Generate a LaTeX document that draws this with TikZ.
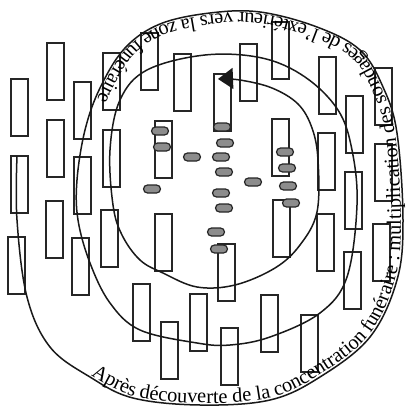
\documentclass[tikz,border=0pt]{standalone}
\usepackage{fontspec}
\setmainfont{Liberation Serif}
\usetikzlibrary{arrows.meta, decorations.text}

\begin{document}
\begin{tikzpicture}[
    x=1pt, y=-1pt,
    sondage/.style={draw=black!85, line width=1.6pt},
    pastille/.style={draw=black!85, fill=black!45, line width=1.2pt, rounded corners=4pt},
    spirale/.style={draw=black!90, line width=1.5pt}
  ]
  \useasboundingbox (0,0) rectangle (410,407);

  % Tranchées de sondage
  \foreach \x/\y in {47/43, 11/79, 47/120, 74/82, 103/53, 141/33, 174/54, 103/130,
                     74/157, 11/156, 155/121, 46/201, 8/237, 72/238, 101/210, 155/214,
                     133/284, 161/322, 190/294, 221/328, 261/295, 218/244, 273/200,
                     214/74, 240/44, 272/22, 319/57, 346/96, 375/68, 272/119, 318/133,
                     375/144, 345/172, 317/214, 373/224, 344/252, 301/315}
    \draw[sondage] (\x,\y) rectangle ++(17,57);

  % Sépultures
  \foreach \x/\y in {160/131, 162/147, 192/157, 152/189, 222/127, 225/143, 221/157,
                     224/172, 221/193, 224/208, 216/232, 219/249, 253/182, 285/152,
                     287/168, 288/186, 291/203}
    \draw[pastille] (\x-8.5,\y-4) rectangle (\x+8.5,\y+4);

  % Spirale
  \draw[spirale, -{Triangle[length=15pt, width=21pt]}] plot[smooth, tension=0.6] coordinates {
    (17,156) (17,220) (27,297) (50,347) (90,377) (133,398) (200,405) (270,400)
    (320,377) (370,337) (397,280) (403,220) (397,133) (383,87) (360,50) (317,27)
    (260,12) (210,13) (160,24) (125,48) (100,88) (85,130) (77,180) (78,220)
    (90,263) (110,303) (140,330) (197,343) (230,345) (270,337) (320,313) (347,277)
    (357,205) (352,150) (338,110) (305,77) (262,58) (205,55) (147,70) (120,100)
    (110,150) (113,205) (122,235) (140,260) (163,273) (197,287) (235,285) (275,268)
    (300,245) (317,212) (318,160) (312,128) (298,104) (272,88) (240,80) (218,79)};

  % Texte le long de la spirale
  \path[decorate, decoration={text along path, raise=2pt,
      text={|\fontsize{20.4}{20.4}\selectfont|Après découverte de la concentration funéraire : multiplication des sondages de l'extérieur vers la zone funéraire}}]
    plot[smooth, tension=0.6] coordinates {
    (90,377) (133,398) (200,405) (270,400) (320,377) (370,337) (397,280) (403,220)
    (397,133) (383,87) (360,50) (317,27) (260,12) (210,13) (160,24) (125,48) (100,88)
    (85,130) (77,180) (78,220) (90,263) (110,303)};
\end{tikzpicture}
\end{document}
